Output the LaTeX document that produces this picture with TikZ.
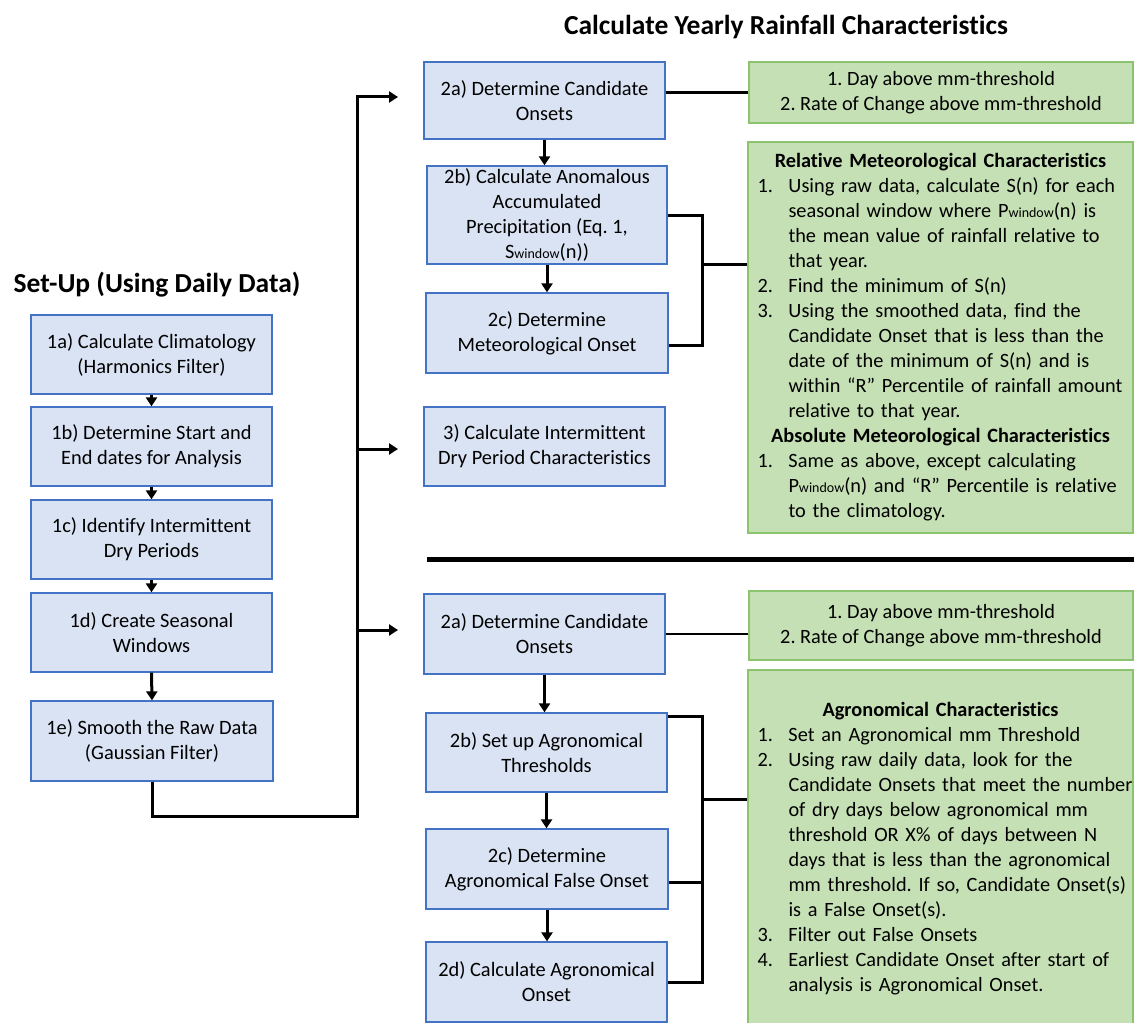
\documentclass[tikz,border=0pt]{standalone}
\usepackage{fontspec}
\setmainfont{Carlito}[Ligatures={NoCommon,NoContextual}]
\usetikzlibrary{arrows.meta}
\definecolor{bfill}{HTML}{DAE3F3}
\definecolor{bdraw}{HTML}{4472C4}
\definecolor{gfill}{HTML}{C5E0B4}
\definecolor{gdraw}{HTML}{8CC36E}
\frenchspacing
\newcommand{\gitem}[2]{\mbox{\makebox[31pt][l]{#1}#2}}
\newcommand{\gcont}[1]{\mbox{\hspace*{31pt}#1}}
\newcommand{\ghead}[1]{\makebox[366pt][c]{\bfseries #1}}
\newcommand{\wsub}{{\fontsize{14}{14}\selectfont window}}
\begin{document}
\begin{tikzpicture}[x=1pt,y=-1pt,
  bbox/.style={draw=bdraw,fill=bfill,line width=1.3pt,inner sep=0pt,align=center,font=\fontsize{20.4}{25}\selectfont},
  gbox/.style={draw=gdraw,fill=gfill,line width=1.3pt,inner sep=0pt,font=\fontsize{20.3}{25}\selectfont},
  glist/.style={gbox,text width=366pt,align=left},
  conn/.style={line width=3pt,line join=miter},
  arr/.style={line width=3pt,line join=miter,-{Triangle[length=9pt,width=11pt]}},
  ttl/.style={font=\fontsize{27.5}{33}\selectfont\bfseries}]
\useasboundingbox (0,0) rectangle (1134,1022);
\fill[white] (0,0) rectangle (1134,1022);
\clip (0,0) rectangle (1134,1022);

% titles
\node[ttl] (ttl1) at (157,285) {Set-Up (Using Daily Data)};
\node[ttl] (ttl2) at (786,27) {Calculate Yearly Rainfall Characteristics};

% set-up column
\node[bbox,minimum width=241pt,minimum height=79pt] (s1a) at (151.5,354.5) {1a) Calculate Climatology\\(Harmonics Filter)};
\node[bbox,minimum width=241pt,minimum height=79pt] (s1b) at (151.5,446.5) {1b) Determine Start and\\End dates for Analysis};
\node[bbox,minimum width=241pt,minimum height=79pt] (s1c) at (151.5,539.5) {1c) Identify Intermittent\\Dry Periods};
\node[bbox,minimum width=241pt,minimum height=79pt] (s1d) at (151.5,632.5) {1d) Create Seasonal\\Windows};
\node[bbox,minimum width=242pt,minimum height=80pt] (s1e) at (152,741) {1e) Smooth the Raw Data\\(Gaussian Filter)};
\draw[arr] (s1a.south) -- (s1b.north);
\draw[arr] (s1b.south) -- (s1c.north);
\draw[arr] (s1c.south) -- (s1d.north);
\draw[arr] (s1d.south) -- (s1e.north);

\coordinate (c1) at (357,816);
\coordinate (e1) at (398,97);
\coordinate (j2) at (357,449);
\coordinate (e2) at (398,449);
\coordinate (j3) at (357,630);
\coordinate (e3) at (398,630);
\draw[arr] (s1e.south) |- (c1) |- (e1);
\draw[arr] (j2) -- (e2);
\draw[arr] (j3) -- (e3);

% upper section
\node[bbox,minimum width=241pt,minimum height=77pt] (t2a) at (544.5,100.5) {2a) Determine Candidate\\Onsets};
\node[bbox,minimum width=240pt,minimum height=98pt] (t2b) at (547,215) {2b) Calculate Anomalous\\Accumulated\\Precipitation (Eq. 1,\\S\wsub(n))};
\node[bbox,minimum width=242pt,minimum height=80pt] (t2c) at (547,333) {2c) Determine\\Meteorological Onset};
\node[bbox,minimum width=241pt,minimum height=79pt] (t3) at (544.5,446.5) {3) Calculate Intermittent\\Dry Period Characteristics};
\draw[arr] (t2a.south) -- (t2a.south |- t2b.north);
\draw[arr] (t2b.south) -- (t2b.south |- t2c.north);

\node[gbox,align=center,minimum width=384pt,minimum height=61pt] (g1) at (941,92.5) {1. Day above mm-threshold\\2. Rate of Change above mm-threshold};
\node[glist,minimum width=385pt,minimum height=391pt] (g2) at (940.5,337.5) {%
\ghead{Relative Meteorological Characteristics}\\
\gitem{1.}{Using raw data, calculate S(n) for each}\\
\gcont{seasonal window where P\wsub(n) is}\\
\gcont{the mean value of rainfall relative to}\\
\gcont{that year.}\\
\gitem{2.}{Find the minimum of S(n)}\\
\gitem{3.}{Using the smoothed data, find the}\\
\gcont{Candidate Onset that is less than the}\\
\gcont{date of the minimum of S(n) and is}\\
\gcont{within “R” Percentile of rainfall amount}\\
\gcont{relative to that year.}\\
\ghead{Absolute Meteorological Characteristics}\\
\gitem{1.}{Same as above, except calculating}\\
\gcont{P\wsub(n) and “R” Percentile is relative}\\
\gcont{to the climatology.}};

\draw[conn] (t2a.east |- g1.west) -- (g1.west);
\coordinate (ka) at (702,345);
\coordinate (kb) at (702,264);
\draw[conn] (t2b.east) -| (ka) -- (ka -| t2c.east);
\draw[conn] (kb) -- (kb -| g2.west);

% divider
\coordinate (d1) at (427,559);
\coordinate (d2) at (1134,559);
\draw[line width=5pt] (d1) -- (d2);

% lower section
\node[bbox,minimum width=241pt,minimum height=80pt] (b2a) at (544.5,634) {2a) Determine Candidate\\Onsets};
\node[bbox,minimum width=241pt,minimum height=79pt] (b2b) at (546.5,752.5) {2b) Set up Agronomical\\Thresholds};
\node[bbox,minimum width=242pt,minimum height=80pt] (b2c) at (547,869) {2c) Determine\\Agronomical False Onset};
\node[bbox,minimum width=241pt,minimum height=80pt] (b2d) at (546.5,982) {2d) Calculate Agronomical\\Onset};
\draw[arr] (b2a.south) -- (b2a.south |- b2b.north);
\draw[arr] (b2b.south) -- (b2b.south |- b2c.north);
\draw[arr] (b2c.south) -- (b2c.south |- b2d.north);

\node[gbox,align=center,minimum width=384pt,minimum height=69pt] (g3) at (941,625.5) {1. Day above mm-threshold\\2. Rate of Change above mm-threshold};
\node[glist,minimum width=385pt,minimum height=358pt] (g4) at (940.5,849) {%
\ghead{Agronomical Characteristics}\\
\gitem{1.}{Set an Agronomical mm Threshold}\\
\gitem{2.}{Using raw daily data, look for the}\\
\gcont{Candidate Onsets that meet the number}\\
\gcont{of dry days below agronomical mm}\\
\gcont{threshold OR X\% of days between N}\\
\gcont{days that is less than the agronomical}\\
\gcont{mm threshold. If so, Candidate Onset(s)}\\
\gcont{is a False Onset(s).}\\
\gitem{3.}{Filter out False Onsets}\\
\gitem{4.}{Earliest Candidate Onset after start of}\\
\gcont{analysis is Agronomical Onset.}};

\draw[line width=2.5pt] (b2a.east) -- (b2a.east -| g3.west);
\coordinate (m1) at (702,716);
\coordinate (m2) at (702,982);
\coordinate (m3) at (702,799);
\coordinate (m4) at (702,882);
\draw[conn] (m1 -| b2b.east) -- (m1) -- (m2) -- (b2d.east);
\draw[conn] (m4 -| b2c.east) -- (m4);
\draw[conn] (m3) -- (m3 -| g4.west);
\end{tikzpicture}
\end{document}
